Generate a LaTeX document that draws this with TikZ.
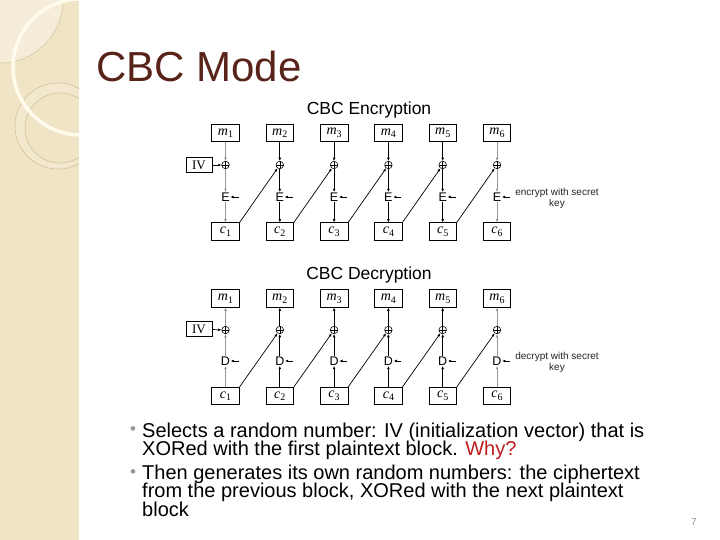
\documentclass[tikz,border=0pt]{standalone}
\usepackage{fontspec}
\setmainfont{Liberation Sans}
\newfontfamily\serifrm{Liberation Serif}
\usetikzlibrary{arrows.meta}
\newcommand{\blklab}[2]{{\serifrm\itshape #1}\raisebox{-0.35ex}{\serifrm\fontsize{10}{10}\selectfont #2}}
\definecolor{stripe}{RGB}{240,228,198}
\definecolor{stripelt}{RGB}{245,237,218}
\definecolor{cream}{RGB}{255,251,236}
\definecolor{ring}{RGB}{214,192,150}
\definecolor{band}{RGB}{242,232,206}
\definecolor{titlec}{RGB}{88,36,26}
\definecolor{whyc}{RGB}{192,30,30}
\definecolor{lgray}{RGB}{150,150,150}
\tikzset{
  blk/.style={draw, line width=0.7, minimum width=27.5, minimum height=17.5, inner sep=0, font=\fontsize{14}{14}\selectfont},
  xor/.style={circle, draw, line width=0.6, minimum size=7.5, inner sep=0,
    path picture={\draw[line width=0.5] (path picture bounding box.north) -- (path picture bounding box.south)
      (path picture bounding box.west) -- (path picture bounding box.east);}},
  cip/.style={inner sep=0.5, font=\fontsize{12.5}{12.5}\selectfont},
  arr/.style={line width=0.7, -{Latex[length=3.2,width=2.8]}},
  garr/.style={arr, draw=lgray},
  lbl/.style={font=\fontsize{10}{10.5}\selectfont, align=center, text=black!85},
  body/.style={anchor=base west, font=\fontsize{20}{20}\selectfont, inner sep=0},
  bul/.style={text=lgray, font=\fontsize{17}{17}\selectfont, inner sep=0, anchor=base},
}
\begin{document}
\begin{tikzpicture}[x=1pt,y=-1pt]
\useasboundingbox (0,0) rectangle (720,540);
\fill[white] (0,0) rectangle (720,540);
% left stripe
\fill[stripe] (0,0) rectangle (79,540);
\begin{scope}
  \clip (0,0) rectangle (79,540);
  \fill[stripelt] (0,0) circle (63);
  \draw[ring, line width=0.5] (0,0) circle (63);
  \fill[band, even odd rule] (58,126) circle (43) (60,128) circle (35);
  \draw[ring, line width=0.6] (58,126) circle (43);
  \draw[ring, line width=0.6] (60,128) circle (35);
  \draw[cream, line width=3.5] (81,67) circle (68);
\end{scope}
% title
\node[anchor=base west, inner sep=0, text=titlec, font=\fontsize{42}{42}\selectfont] (title) at (96,82) {CBC Mode};
% ---------------- encryption
\node[anchor=base, inner sep=0, font=\fontsize{17.5}{17.5}\selectfont] (enct) at (369,115) {CBC Encryption};
\foreach \i in {1,...,6} {
  \pgfmathsetmacro{\xx}{225.5+54.3*(\i-1)}
  \node[blk] (em\i) at (\xx,133) {\blklab{m}{\i}};
  \node[xor] (ex\i) at (\xx,165) {};
  \node[cip] (ee\i) at (\xx,197) {E};
  \node[blk] (ec\i) at (\xx,231.5) {\blklab{c}{\i}};
  \coordinate (ek\i) at (\xx+13,197);
  \draw[arr] (ek\i) -- (ee\i);
}
\foreach \i/\s in {1/garr,2/arr,3/arr,4/arr,5/arr,6/garr} {
  \draw[\s] (em\i) -- (ex\i);
  \draw[\s] (ex\i) -- (ee\i);
  \draw[\s] (ee\i) -- (ec\i);
}
\foreach \i/\j in {1/2,2/3,3/4,4/5,5/6} {
  \draw[arr] (ec\i.north east) -- (ex\j);
}
\node[blk, font=\serifrm\fontsize{13}{13}\selectfont, minimum width=26, minimum height=15] (eiv) at (199,165) {IV};
\draw[arr] (eiv) -- (ex1);
\node[lbl] (elab) at (557,198.5) {encrypt with secret\\key};
% ---------------- decryption
\node[anchor=base, inner sep=0, font=\fontsize{17.5}{17.5}\selectfont] (dect) at (369,279) {CBC Decryption};
\foreach \i in {1,...,6} {
  \pgfmathsetmacro{\xx}{225.5+54.3*(\i-1)}
  \node[blk] (dm\i) at (\xx,298.5) {\blklab{m}{\i}};
  \node[xor] (dx\i) at (\xx,330) {};
  \node[cip] (dd\i) at (\xx,361) {D};
  \node[blk] (dc\i) at (\xx,396) {\blklab{c}{\i}};
  \coordinate (dk\i) at (\xx+13,361);
  \draw[arr] (dk\i) -- (dd\i);
}
\foreach \i/\s in {1/garr,2/arr,3/arr,4/arr,5/arr,6/garr} {
  \draw[\s] (dc\i) -- (dd\i);
  \draw[\s] (dd\i) -- (dx\i);
  \draw[\s] (dx\i) -- (dm\i);
}
\foreach \i/\j in {1/2,2/3,3/4,4/5,5/6} {
  \draw[arr] (dc\i.north east) -- (dx\j);
}
\node[blk, font=\serifrm\fontsize{13}{13}\selectfont, minimum width=26, minimum height=15] (div) at (199,329) {IV};
\draw[arr] (div) -- (dx1);
\node[lbl] (dlab) at (557,362.5) {decrypt with secret\\key};
% ---------------- text
\node[bul] (b1) at (133,434.5) {•};
\node[bul] (b2) at (133,477.5) {•};
\node[body] (t1) at (142,437) {Selects a random number: IV (initialization vector) that is};
\node[body] (t2) at (142,455.5) {XORed with the first plaintext block. \textcolor{whyc}{Why?}};
\node[body] (t3) at (142,479) {Then generates its own random numbers: the ciphertext};
\node[body] (t4) at (142,497.5) {from the previous block, XORed with the next plaintext};
\node[body] (t5) at (142,516) {block};
\node[text=lgray, font=\fontsize{10}{10}\selectfont, inner sep=0] (pg) at (694,522) {7};
\end{tikzpicture}
\end{document}
